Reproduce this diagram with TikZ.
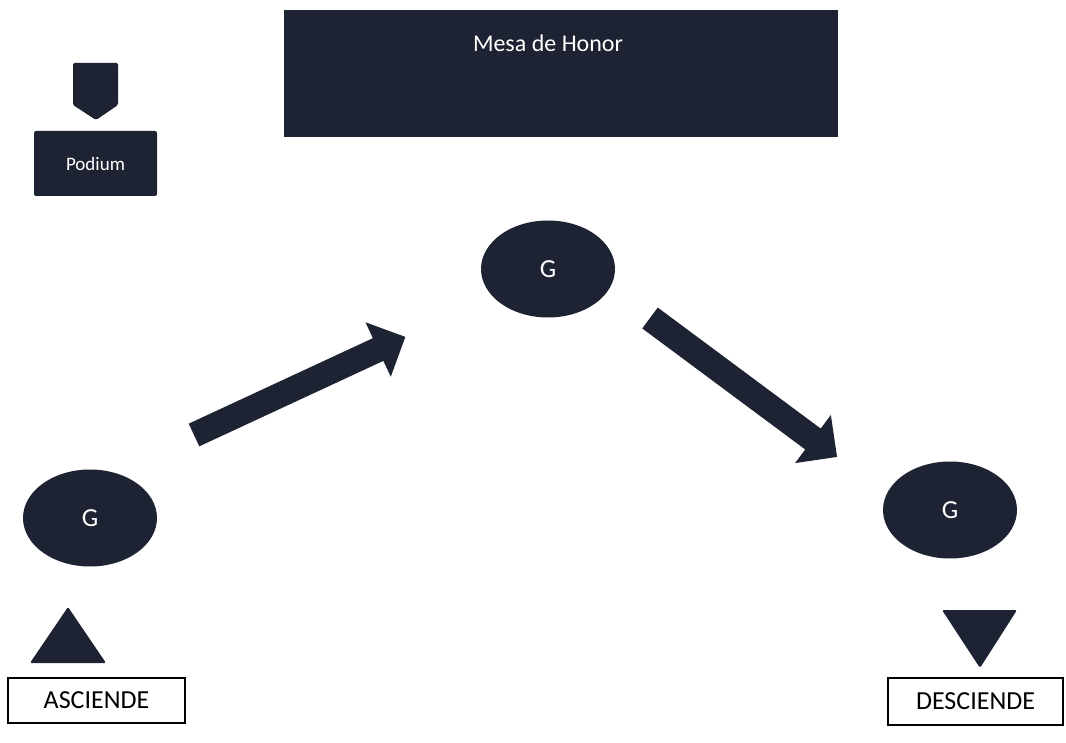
\documentclass[tikz,border=0pt]{standalone}
\usepackage{fontspec}
\setmainfont{Carlito}
\usetikzlibrary{shapes.geometric}
\definecolor{navy}{RGB}{29,35,50}
\tikzset{
  darkbox/.style={draw=none,fill=navy,text=white,inner sep=0pt},
  gnode/.style={ellipse,draw=none,fill=navy,text=white,inner sep=0pt,
     minimum width=134pt,minimum height=97pt,font=\fontsize{26}{30}\selectfont},
  labelbox/.style={draw=black,line width=1.2pt,fill=white,inner sep=0pt,
     font=\fontsize{26}{30}\selectfont},
  blockarrow/.style={fill=navy,draw=none},
}
\begin{document}
\begin{tikzpicture}[x=1pt,y=-1pt]
\useasboundingbox (0,0) rectangle (1066,743);
\fill[white] (0,0) rectangle (1066,743);
% Mesa de Honor
\node[darkbox,minimum width=554pt,minimum height=127pt] (mesa) at (561,73.5) {};
\node[text=white,font=\fontsize{24}{28}\selectfont] (mesatxt) at (548,43) {Mesa de Honor};
% Podium
\node[darkbox,minimum width=123pt,minimum height=65pt,rounded corners=2pt,
      font=\fontsize{19}{22}\selectfont] (podium) at (95.5,163.5) {Podium};
\fill[navy,rounded corners=1.5pt] (73,63) -- (118,63) -- (118,105) -- (96,120) -- (73,105) -- cycle;
% G nodes
\node[gnode] (gtop) at (548,269) {G};
\node[gnode] (gleft) at (90,518) {G};
\node[gnode] (gright) at (950,510) {G};
% block arrows
\begin{scope}[shift={(194,435)},rotate=24.9]
  \fill[blockarrow] (0,-12.5) -- (203,-12.5) -- (203,-30) -- (233,0) -- (203,30) -- (203,12.5) -- (0,12.5) -- cycle;
\end{scope}
\begin{scope}[shift={(650,318)},rotate=-36.6]
  \fill[blockarrow] (0,-13) -- (203,-13) -- (203,-30) -- (233,0) -- (203,30) -- (203,13) -- (0,13) -- cycle;
\end{scope}
% triangles
\fill[navy,rounded corners=1.5pt] (68,607) -- (106,663) -- (30,663) -- cycle;
\fill[navy,rounded corners=1.5pt] (942,610) -- (1017,610) -- (980,668) -- cycle;
% label boxes
\node[labelbox,minimum width=177pt,minimum height=45pt] (asc) at (96.5,700.5) {ASCIENDE};
\node[labelbox,minimum width=175pt,minimum height=47pt] (desc) at (975.5,701.5) {DESCIENDE};
\end{tikzpicture}
\end{document}
